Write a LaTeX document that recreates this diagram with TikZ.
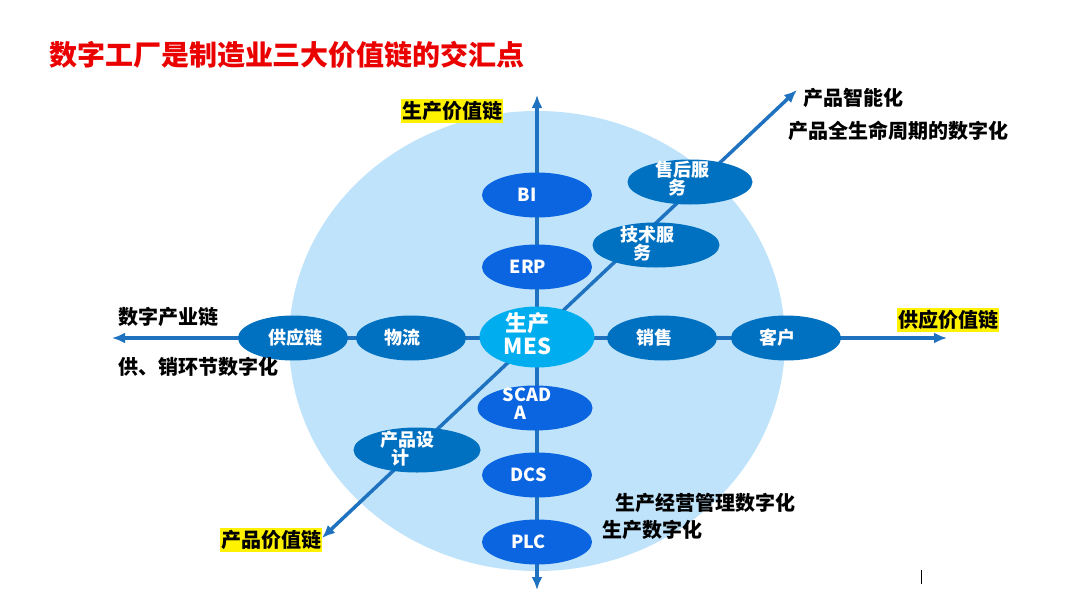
\documentclass[tikz,border=0pt]{standalone}
\usepackage{fontspec}
\setmainfont{Noto Sans CJK SC}
\usetikzlibrary{shapes.geometric,arrows.meta}
\definecolor{bgblue}{RGB}{190,227,250}
\definecolor{axisblue}{RGB}{30,114,192}
\definecolor{darknode}{RGB}{0,112,192}
\definecolor{brightnode}{RGB}{11,101,224}
\definecolor{mesnode}{RGB}{0,174,239}
\definecolor{titlered}{RGB}{235,0,0}
\tikzset{
  axis/.style={draw=axisblue, line width=3.5pt, {Latex[length=13pt,width=11pt]}-{Latex[length=13pt,width=11pt]}},
  oval/.style={ellipse, inner sep=0pt, minimum width=110pt, minimum height=45pt},
  darkoval/.style={oval, fill=darknode},
  brightoval/.style={oval, fill=brightnode},
  ovaltext/.style={inner sep=0pt, text=white, align=center, font=\bfseries\fontsize{18}{18}\selectfont},
  hilite/.style={fill=yellow, inner xsep=1pt, inner ysep=2.5pt, text=black, font=\bfseries\fontsize{20}{20}\selectfont},
  blacklabel/.style={inner sep=0pt, text=black, font=\bfseries\fontsize{20}{20}\selectfont}
}
\begin{document}
\begin{tikzpicture}[x=1pt,y=-1pt]
\useasboundingbox (0,0) rectangle (1080,608);
\fill[white] (0,0) rectangle (1080,608);
\fill[bgblue] (537,341) ellipse [x radius=248, y radius=230];

\coordinate (vtop) at (537,95);
\coordinate (vbot) at (537,590);
\coordinate (hl) at (112,338);
\coordinate (hr) at (947,338);
\coordinate (dll) at (322,538);
\coordinate (dur) at (797,90);

\draw[axis] (vbot) -- (vtop);
\draw[axis] (hl) -- (hr);
\draw[axis] (dll) -- (dur);

% vertical chain
\node[brightoval] (bi) at (537,195) {};
\node[brightoval] (erp) at (537,267) {};
\node[oval, fill=mesnode, minimum width=115pt, minimum height=61pt] (mes) at (537,337) {};
\node[brightoval, minimum width=115pt] (scada) at (535,408) {};
\node[brightoval] (dcs) at (537,475) {};
\node[brightoval] (plc) at (537,542) {};

% horizontal chain
\node[darkoval] (gyl) at (293,338) {};
\node[darkoval] (wl) at (411,338) {};
\node[darkoval] (xs) at (662,338) {};
\node[darkoval] (kh) at (786,338) {};

% diagonal chain
\node[darkoval, minimum width=125pt] (shfw) at (690,182) {};
\node[darkoval, minimum width=127pt] (jsfw) at (656,245) {};
\node[darkoval, minimum width=127pt] (cpsj) at (417,450) {};

% texts inside the ovals
\node[ovaltext] (bi-t) at ([xshift=-10pt]bi.center) {BI};
\node[ovaltext] (erp-t) at ([xshift=-9pt]erp.center) {ERP};
\node[ovaltext, font=\bfseries\fontsize{22}{23}\selectfont] (mes-t) at (527.5,334) {生产\\MES};
\node[ovaltext] (scada-t) at (527,404) {SCAD\\A\hspace*{14pt}};
\node[ovaltext] (dcs-t) at ([xshift=-8.5pt]dcs.center) {DCS};
\node[ovaltext] (plc-t) at ([xshift=-8.5pt]plc.center) {PLC};
\node[ovaltext] (gyl-t) at ([xshift=2pt]gyl.center) {供应链};
\node[ovaltext] (wl-t) at ([xshift=-9pt]wl.center) {物流};
\node[ovaltext] (xs-t) at ([xshift=-8pt]xs.center) {销售};
\node[ovaltext] (kh-t) at ([xshift=-9pt]kh.center) {客户};
\node[ovaltext] (shfw-t) at (682,179) {售后服\\务\hspace*{10pt}};
\node[ovaltext] (jsfw-t) at (647,243.5) {技术服\\务\hspace*{10pt}};
\node[ovaltext] (cpsj-t) at (407,449) {产品设\\计\hspace*{14pt}};

% title
\node[inner sep=0pt, text=titlered, font=\bfseries\fontsize{28}{28}\selectfont] (title) at (287,55) {数字工厂是制造业三大价值链的交汇点};

% highlighted chain names
\node[hilite] (scjzl) at (452,111) {生产价值链};
\node[hilite] (cpjzl) at (271,540) {产品价值链};
\node[hilite] (gyjzl) at (948,320) {供应价值链};

% black annotations
\node[blacklabel, anchor=west] (szcyl) at (118,317) {数字产业链};
\node[blacklabel, anchor=west] (gxhj) at (118,367) {供、销环节数字化};
\node[blacklabel, anchor=west] (cpzn) at (803,98) {产品智能化};
\node[blacklabel, anchor=west] (cpqsm) at (788,131) {产品全生命周期的数字化};
\node[blacklabel, anchor=west] (scjy) at (615,503) {生产经营管理数字化};
\node[blacklabel, anchor=west] (scsz) at (602,530) {生产数字化};

\draw[black, line width=1pt] (921,570) -- (921,584);
\end{tikzpicture}
\end{document}
